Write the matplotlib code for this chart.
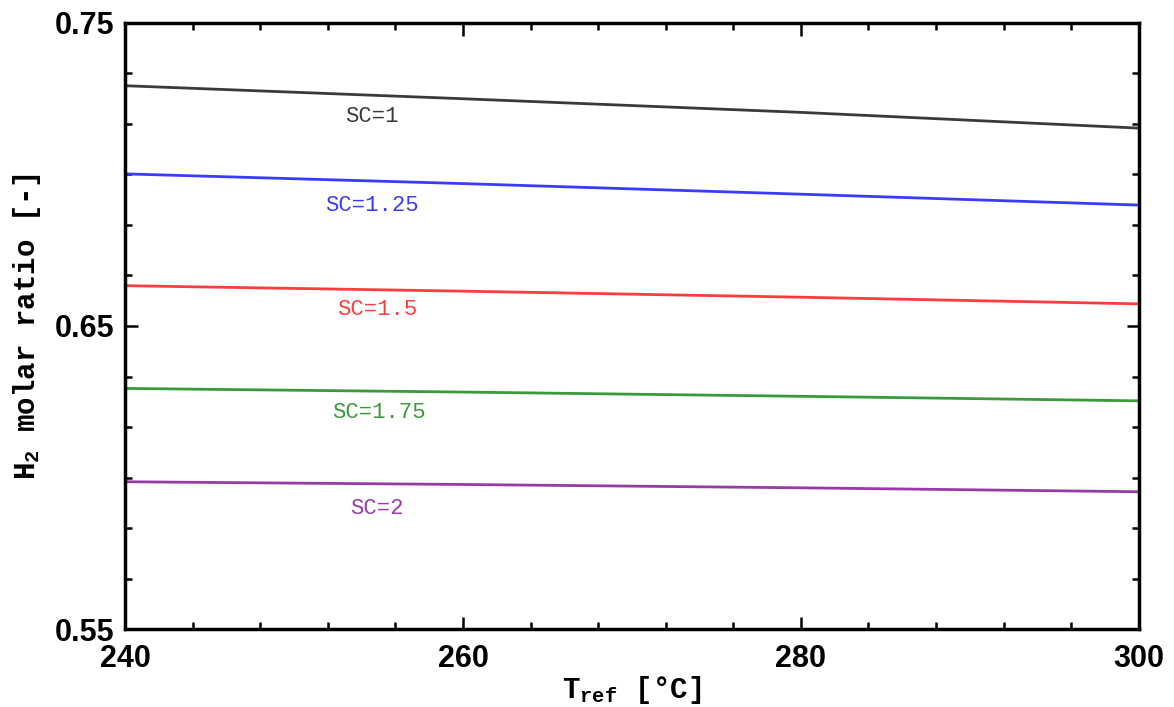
import matplotlib
matplotlib.use("Agg")
import matplotlib.pyplot as plt
from matplotlib.ticker import MultipleLocator

# ---------------- Dados ----------------
t_ref = [240, 260, 280, 300]
sc_1 = [0.7293, 0.7250, 0.7205, 0.7153]
sc_125 = [0.7002, 0.6970, 0.6935, 0.6899]
sc_15 = [0.6633, 0.6615, 0.6595, 0.6573]
sc_175 = [0.6294, 0.6282, 0.6268, 0.6253]
sc_2 = [0.5986, 0.5977, 0.5966, 0.5953]

labels = ["SC=1", "SC=1.25", "SC=1.5", "SC=1.75", "SC=2"]
label_x = [254.6, 254.6, 254.9, 255.0, 254.9]
label_y = [0.7193, 0.6899, 0.6553, 0.6216, 0.5899]
colors = ["#3a3a3a", "#3b3bff", "#ff3b3b", "#3a9a3a", "#9a3aa8"]

plt.rcParams["mathtext.fontset"] = "custom"
plt.rcParams["mathtext.rm"] = "Liberation Mono:bold"
plt.rcParams["mathtext.bf"] = "Liberation Mono:bold"

fig = plt.figure(figsize=(11.74, 7.07), dpi=100)
ax = fig.add_axes([0.1065, 0.1103, 0.8635, 0.8572])

series = [sc_1, sc_125, sc_15, sc_175, sc_2]
for ys, c in zip(series, colors):
    ax.plot(t_ref, ys, color=c, lw=2)

for txt, x, y, c in zip(labels, label_x, label_y, colors):
    ax.text(x, y, txt, color=c, ha="center", va="center",
            family="Liberation Mono", fontsize=16)

ax.set_xlim(240, 300)
ax.set_ylim(0.55, 0.75)
ax.set_xticks([240, 260, 280, 300])
ax.set_yticks([0.55, 0.65, 0.75])
ax.set_yticklabels(["0.55", "0.65", "0.75"])
ax.xaxis.set_minor_locator(MultipleLocator(4))
ax.yaxis.set_minor_locator(MultipleLocator(0.1 / 6))

ax.tick_params(which="both", direction="in", top=True, right=True, width=1.8)
ax.tick_params(which="major", length=9)
ax.tick_params(which="minor", length=5)
ax.tick_params(axis="x", which="major", pad=11)
ax.tick_params(axis="y", which="major", pad=8)
for lab in ax.get_xticklabels() + ax.get_yticklabels():
    lab.set_fontsize(22)
    lab.set_fontweight("bold")
    lab.set_family("Liberation Sans")

for s in ax.spines.values():
    s.set_linewidth(2.5)

ax.set_xlabel(r"T$_{\mathrm{ref}}$ [°C]", family="Liberation Mono",
              fontweight="bold", fontsize=21, labelpad=0)
ax.set_ylabel(r"H$_{\mathrm{2}}$ molar ratio [-]", family="Liberation Mono",
              fontweight="bold", fontsize=21, labelpad=8)

fig.savefig("out.png", dpi=100)
